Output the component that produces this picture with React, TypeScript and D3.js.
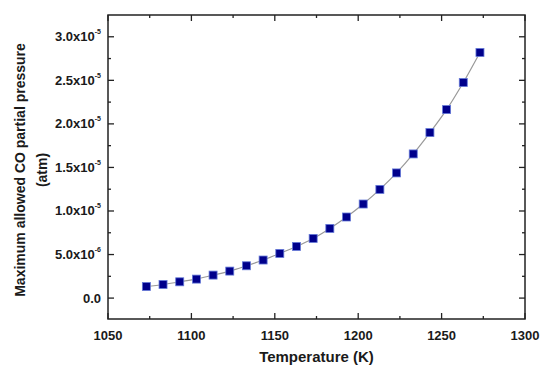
import React, { useRef, useEffect } from 'react';
import * as d3 from 'd3';

const temperatures = [1073, 1083, 1093, 1103, 1113, 1123, 1133, 1143, 1153, 1163, 1173, 1183, 1193, 1203, 1213, 1223, 1233, 1243, 1253, 1263, 1273];
const pressures = [1.33e-6, 1.56e-6, 1.87e-6, 2.18e-6, 2.64e-6, 3.1e-6, 3.71e-6, 4.37e-6, 5.13e-6, 5.93e-6, 6.85e-6, 8.0e-6, 9.31e-6, 1.08e-5, 1.248e-5, 1.437e-5, 1.655e-5, 1.9e-5, 2.164e-5, 2.475e-5, 2.82e-5];

const xTicks = [1050, 1100, 1150, 1200, 1250, 1300];
const yTicks = [0, 5e-6, 1e-5, 1.5e-5, 2e-5, 2.5e-5, 3e-5];
const yTickLabels = [
  { mant: '0.0', exp: '' },
  { mant: '5.0x10', exp: '-6' },
  { mant: '1.0x10', exp: '-5' },
  { mant: '1.5x10', exp: '-5' },
  { mant: '2.0x10', exp: '-5' },
  { mant: '2.5x10', exp: '-5' },
  { mant: '3.0x10', exp: '-5' },
];

const App = () => {
  const svgRef = useRef<SVGSVGElement>(null);
  const width = 541;
  const height = 367;

  useEffect(() => {
    const svg = d3.select(svgRef.current);
    svg.selectAll('*').remove();

    const margin = { top: 15, right: 16, bottom: 48, left: 108 };
    const innerWidth = width - margin.left - margin.right;
    const innerHeight = height - margin.top - margin.bottom;
    const font = "'Liberation Sans', Arial, sans-serif";

    const x = d3.scaleLinear().domain([1050, 1300]).range([0, innerWidth]);
    const y = d3.scaleLinear().domain([-2.4e-6, 3.25e-5]).range([innerHeight, 0]);

    const g = svg.append('g')
      .attr('transform', 'translate(' + margin.left + ',' + margin.top + ')');

    // inward ticks on all four sides
    const xMinor = d3.range(1075, 1300, 50);
    const yMinor = d3.range(2.5e-6, 3.25e-5, 5e-6);
    const tickColor = '#222';

    const addXTicks = (vals: number[], len: number) => {
      vals.forEach(v => {
        g.append('line').attr('x1', x(v)).attr('x2', x(v)).attr('y1', innerHeight).attr('y2', innerHeight - len)
          .attr('stroke', tickColor).attr('stroke-width', 1.3);
        g.append('line').attr('x1', x(v)).attr('x2', x(v)).attr('y1', 0).attr('y2', len)
          .attr('stroke', tickColor).attr('stroke-width', 1.3);
      });
    };
    const addYTicks = (vals: number[], len: number) => {
      vals.forEach(v => {
        g.append('line').attr('x1', 0).attr('x2', len).attr('y1', y(v)).attr('y2', y(v))
          .attr('stroke', tickColor).attr('stroke-width', 1.3);
        g.append('line').attr('x1', innerWidth).attr('x2', innerWidth - len).attr('y1', y(v)).attr('y2', y(v))
          .attr('stroke', tickColor).attr('stroke-width', 1.3);
      });
    };
    addXTicks(xTicks, 6);
    addXTicks(xMinor, 3);
    addYTicks(yTicks, 6);
    addYTicks(yMinor, 3);

    g.append('rect')
      .attr('width', innerWidth).attr('height', innerHeight)
      .attr('fill', 'none').attr('stroke', '#222').attr('stroke-width', 1.5);

    // x tick labels
    g.selectAll('.xl').data(xTicks).enter().append('text')
      .attr('x', d => x(d)).attr('y', innerHeight + 21)
      .attr('text-anchor', 'middle')
      .attr('font-family', font).attr('font-weight', 'bold').attr('font-size', 13)
      .attr('fill', '#1a1a1a')
      .text(d => d);

    // y tick labels with superscript
    yTicks.forEach((v, i) => {
      const t = g.append('text')
        .attr('x', -7).attr('y', y(v) + 4.5)
        .attr('text-anchor', 'end')
        .attr('font-family', font).attr('font-weight', 'bold').attr('font-size', 13)
        .attr('fill', '#1a1a1a');
      t.append('tspan').text(yTickLabels[i].mant);
      if (yTickLabels[i].exp) {
        t.append('tspan').attr('font-size', 7).attr('dy', -7).text(yTickLabels[i].exp);
      }
    });

    // connecting line
    const line = d3.line<number>()
      .x((d, i) => x(temperatures[i]))
      .y(d => y(d))
      .curve(d3.curveCatmullRom);
    g.append('path')
      .datum(pressures)
      .attr('d', line)
      .attr('fill', 'none')
      .attr('stroke', '#999')
      .attr('stroke-width', 1.2);

    // square markers
    const s = 8;
    g.selectAll('.pt').data(pressures).enter().append('rect')
      .attr('x', (d, i) => x(temperatures[i]) - s / 2)
      .attr('y', d => y(d) - s / 2)
      .attr('width', s).attr('height', s)
      .attr('fill', '#00008b')
      .attr('stroke', '#6478d8')
      .attr('stroke-width', 0.8);

    // axis titles
    svg.append('text')
      .attr('x', margin.left + innerWidth / 2).attr('y', 362)
      .attr('text-anchor', 'middle')
      .attr('font-family', font).attr('font-weight', 'bold').attr('font-size', 15)
      .attr('fill', '#1a1a1a')
      .text('Temperature (K)');

    const yTitle = svg.append('text')
      .attr('transform', 'translate(25,' + (margin.top + innerHeight / 2 + 3) + ') rotate(-90)')
      .attr('text-anchor', 'middle')
      .attr('font-family', font).attr('font-weight', 'bold').attr('font-size', 14)
      .attr('fill', '#1a1a1a');
    yTitle.append('tspan').attr('x', 0).attr('y', 0).text('Maximum allowed CO partial pressure');
    yTitle.append('tspan').attr('x', 0).attr('y', 22).text('(atm)');
  }, []);

  return (
    <svg ref={svgRef} width={width} height={height} style={{ position: 'absolute', left: 0, top: 0 }}></svg>
  );
};

export default App;
